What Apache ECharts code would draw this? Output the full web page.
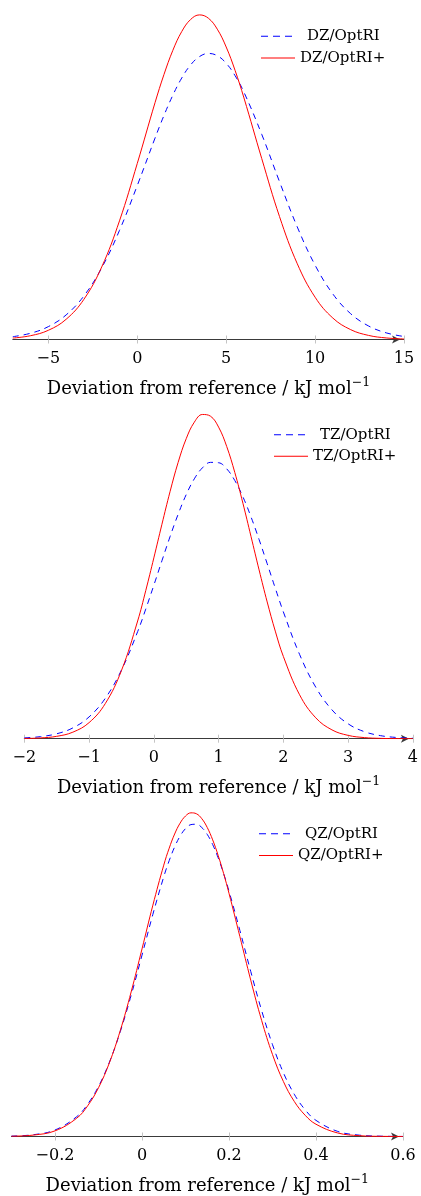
<!DOCTYPE html>
<html><head><meta charset="utf-8">
<script src="https://cdn.jsdelivr.net/npm/echarts@6/dist/echarts.min.js"></script>
<style>html,body{margin:0;padding:0;background:#fff}#c{width:421px;height:1196px}</style>
</head><body><div id="c"></div>
<script>
// ---- Data ----
const dzX = [-7,-6,-5,-4,-3,-2,-1,0,1,1.5,2,2.5,3,3.5,4,4.5,5,5.5,6,7,8,9,10,11,12,13,14,15];
const dzOptRI = [0.00108,0.00240,0.00495,0.00945,0.01675,0.02753,0.04192,0.05916,0.07739,0.08604,0.09384,0.10044,0.10548,0.10869,0.10989,0.10902,0.10612,0.10136,0.09499,0.07881,0.06061,0.04320,0.02855,0.01748,0.00992,0.00522,0.00255,0.00115];
const dzOptRIPlus = [0.00055,0.00146,0.00354,0.00777,0.01545,0.02787,0.04558,0.06763,0.09101,0.10177,0.11107,0.11829,0.12294,0.1247,0.12342,0.11921,0.11237,0.10338,0.09280,0.06950,0.04721,0.02908,0.01625,0.00823,0.00379,0.00158,0.00060,0.00020];

const tzX = [-2,-1.75,-1.5,-1.25,-1,-0.75,-0.5,-0.25,-0.125,0,0.125,0.25,0.375,0.5,0.625,0.75,0.875,1,1.125,1.25,1.375,1.5,1.625,1.75,1.875,2,2.25,2.5,2.75,3,3.25,3.5,3.75,4];
const tzOptRI = [0.00133,0.00347,0.00829,0.01820,0.03668,0.06791,0.1155,0.1802,0.2181,0.2583,0.2995,0.3400,0.3777,0.4109,0.4374,0.4559,0.4651,0.4645,0.4542,0.4346,0.4072,0.3734,0.3352,0.2946,0.2534,0.2134,0.1419,0.0867,0.04861,0.02504,0.01184,0.00514,0.00205,0.00075];
const tzOptRIPlus = [0.00037,0.00128,0.00399,0.01101,0.02704,0.05904,0.1147,0.1981,0.2492,0.3043,0.3609,0.4157,0.4650,0.5050,0.5327,0.5457,0.5428,0.5244,0.4919,0.4481,0.3964,0.3405,0.2841,0.2302,0.1811,0.1384,0.07396,0.03516,0.01487,0.00559,0.00187,0.00056,0.00015,0.00003];

const qzX = [-0.3,-0.25,-0.2,-0.15,-0.125,-0.1,-0.075,-0.05,-0.025,0,0.025,0.05,0.0625,0.075,0.0875,0.1,0.1125,0.125,0.1375,0.15,0.1625,0.175,0.1875,0.2,0.225,0.25,0.275,0.3,0.325,0.35,0.375,0.4,0.45,0.5,0.55,0.6];
const qzOptRI = [0.0044,0.0196,0.0723,0.2205,0.3587,0.5564,0.8239,1.1632,1.5666,2.0127,2.4661,2.8824,3.0614,3.2133,3.3332,3.4170,3.4616,3.4657,3.4291,3.3529,3.2400,3.0940,2.9202,2.7235,2.2868,1.8313,1.3987,1.0192,0.7084,0.4694,0.2969,0.1790,0.0565,0.0148,0.0032,0.0006];
const qzOptRIPlus = [0.0032,0.0157,0.0625,0.2035,0.3404,0.5412,0.8176,1.1749,1.6040,2.0816,2.5679,3.0118,3.1997,3.3571,3.4775,3.5568,3.5922,3.5822,3.5272,3.4294,3.2921,3.1207,2.9208,2.6991,2.2193,1.7345,1.2884,0.9097,0.6106,0.3896,0.2361,0.1361,0.0389,0.0091,0.0017,0.0003];

const dzTicks = [-5,0,5,10,15];
const tzTicks = [-2,-1,0,1,2,3,4];
const qzTicks = [-0.2,0,0.2,0.4,0.6];

const dzNames = ['DZ/OptRI','DZ/OptRI+'];
const tzNames = ['TZ/OptRI','TZ/OptRI+'];
const qzNames = ['QZ/OptRI','QZ/OptRI+'];
const axisTitle = 'Deviation from reference / kJ mol{sup|−1}';

// ---- Layout ----
const FONT = 'DejaVu Serif';
const BLUE = '#0000ff', RED = '#ff0000';
const LG_BLUE = 'rgb(0,0,255)', LG_RED = 'rgb(255,0,0)';
const ICON_DASH = 'path://M0,0h7v1h-7zM12,0h7v1h-7zM24,0h7v1h-7z';
const ICON_SOLID = 'path://M0,0h34v1h-34z';
const panels = [
  {x: dzX, a: dzOptRI, b: dzOptRIPlus, names: dzNames, ticks: dzTicks, min: -7, max: 15, ymax: 0.1285,
   left: 12.8, width: 391.2, top: 5, lgLeft: 261, lgTopA: 28.7, lgTopB: 50.5},
  {x: tzX, a: tzOptRI, b: tzOptRIPlus, names: tzNames, ticks: tzTicks, min: -2, max: 4, ymax: 0.5630,
   left: 24.3, width: 391.7, top: 404.2, lgLeft: 274, lgTopA: 427.3, lgTopB: 448.7},
  {x: qzX, a: qzOptRI, b: qzOptRIPlus, names: qzNames, ticks: qzTicks, min: -0.3, max: 0.6, ymax: 3.7036,
   left: 11.5, width: 391.5, top: 802.8, lgLeft: 259, lgTopA: 826.3, lgTopB: 848}
];
const H = 334.5;
const fmt = v => String(v).replace('-', '\u2212');

const option = {animation: false, backgroundColor: '#fff', grid: [], xAxis: [], yAxis: [], series: [], legend: []};
panels.forEach((p, i) => {
  option.grid.push({left: p.left, top: p.top, width: p.width, height: H, containLabel: false});
  option.xAxis.push({
    type: 'value', gridIndex: i, min: p.min, max: p.max, position: 'bottom',
    axisLine: {show: true, lineStyle: {color: '#3a3a3a', width: 1}, symbol: ['none', 'arrow'], symbolSize: [6, 8], symbolOffset: [0, -4]},
    axisTick: {show: true, customValues: p.ticks, length: 4, inside: false, lineStyle: {color: '#c4c4c4', width: 1}},
    axisLabel: {show: true, customValues: p.ticks, formatter: fmt, fontFamily: FONT, fontSize: 16, color: '#000', margin: 11},
    splitLine: {show: false},
    name: axisTitle, nameLocation: 'middle', nameGap: 37,
    nameTextStyle: {fontFamily: FONT, fontSize: 18, color: '#000',
      rich: {sup: {fontFamily: FONT, fontSize: 12.5, color: '#000', padding: [0, 0, 12, 0]}}}
  });
  option.xAxis.push({
    type: 'value', gridIndex: i, min: p.min, max: p.max, position: 'bottom', offset: 0,
    axisLine: {show: false}, axisLabel: {show: false}, splitLine: {show: false},
    axisTick: {show: true, customValues: p.ticks, length: 4, inside: true, lineStyle: {color: '#c4c4c4', width: 1}}
  });
  option.yAxis.push({type: 'value', gridIndex: i, min: 0, max: p.ymax, show: false});
  option.series.push({
    type: 'line', name: p.names[0], xAxisIndex: 2 * i, yAxisIndex: i, symbol: 'none', showSymbol: false,
    smooth: 0.4, data: p.x.map((v, k) => [v, p.a[k]]),
    lineStyle: {color: BLUE, width: 1, type: [6, 5]}, itemStyle: {color: BLUE}
  });
  option.series.push({
    type: 'line', name: p.names[1], xAxisIndex: 2 * i, yAxisIndex: i, symbol: 'none', showSymbol: false,
    smooth: 0.4, data: p.x.map((v, k) => [v, p.b[k]]),
    lineStyle: {color: RED, width: 1}, itemStyle: {color: RED}
  });
  option.legend.push({
    data: [{name: p.names[0], icon: ICON_DASH}], left: p.lgLeft, top: p.lgTopA, orient: 'vertical',
    itemWidth: 31, itemHeight: 14, padding: 0, selectedMode: false, symbolKeepAspect: true,
    itemStyle: {color: LG_BLUE, borderWidth: 0},
    textStyle: {fontFamily: FONT, fontSize: 15, color: '#000', padding: [0, 0, 0, 10]}
  });
  option.legend.push({
    data: [{name: p.names[1], icon: ICON_SOLID}], left: p.lgLeft, top: p.lgTopB, orient: 'vertical',
    itemWidth: 34, itemHeight: 14, padding: 0, selectedMode: false, symbolKeepAspect: true,
    itemStyle: {color: LG_RED, borderWidth: 0},
    textStyle: {fontFamily: FONT, fontSize: 15, color: '#000'}
  });
});

const chart = echarts.init(document.getElementById('c'), null, {renderer: 'canvas'});
chart.setOption(option);
</script>
</body></html>
